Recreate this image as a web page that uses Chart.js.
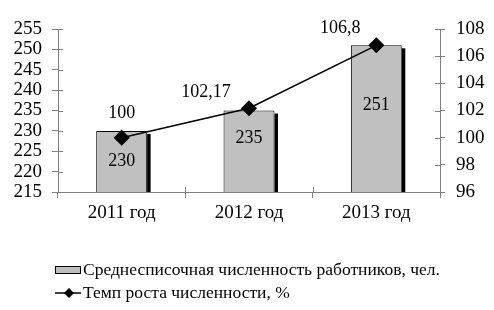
<!DOCTYPE html>
<html>
<head>
<meta charset="utf-8">
<script src="https://cdn.jsdelivr.net/npm/chart.js@4.4.0/dist/chart.umd.min.js"></script>
<style>
  html, body { margin: 0; padding: 0; background: #fff; }
  #wrap { width: 494px; height: 310px; }
</style>
</head>
<body>
<div id="wrap"><canvas id="chart" width="494" height="310"></canvas></div>
<script>
// ==============================
// Data
// ==============================
const years = ["2011 год", "2012 год", "2013 год"];
const staffCount = [230, 235, 251];
const growthRate = [100, 102.17, 106.8];
const growthLabels = ["100", "102,17", "106,8"];
const barLabel = "Среднесписочная численность работников, чел.";
const lineLabel = "Темп роста численности, %";

const FONT = "'Liberation Serif', 'Times New Roman', serif";
const AXIS = "#808080";
const BAR_IDX = 1, LINE_IDX = 0;

// bars start at the axis minimum, not at zero
function barBottom(chart, bar) {
  return Math.min(bar.base, chart.chartArea.bottom);
}

// ==============================
// Bar shadow (black strip on the right side)
// ==============================
const shadowPlugin = {
  id: "barShadow",
  beforeDatasetsDraw(chart) {
    const meta = chart.getDatasetMeta(BAR_IDX);
    const ctx = chart.ctx;
    ctx.save();
    ctx.fillStyle = "#000";
    meta.data.forEach(bar => {
      const right = bar.x + bar.width / 2;
      const bottom = barBottom(chart, bar);
      ctx.fillRect(right, bar.y + 3, 3.5, bottom - bar.y - 3);
    });
    ctx.restore();
  }
};

// ==============================
// Inner half of the tick marks (ticks cross the axis lines)
// ==============================
const crossTicks = {
  id: "crossTicks",
  afterDraw(chart) {
    const ctx = chart.ctx;
    const { y, y1, x } = chart.scales;
    ctx.save();
    ctx.strokeStyle = AXIS;
    ctx.lineWidth = 1;
    ctx.beginPath();
    y.ticks.forEach((t, i) => {
      const py = Math.round(y.getPixelForTick(i)) + 0.5;
      ctx.moveTo(y.right, py); ctx.lineTo(y.right + 5, py);
    });
    y1.ticks.forEach((t, i) => {
      const py = Math.round(y1.getPixelForTick(i)) + 0.5;
      ctx.moveTo(y1.left - 5, py); ctx.lineTo(y1.left, py);
    });
    for (let i = 1; i < years.length; i++) {
      const px = Math.round((x.getPixelForValue(i - 1) + x.getPixelForValue(i)) / 2) + 0.5;
      ctx.moveTo(px, x.top - 5); ctx.lineTo(px, x.top);
    }
    ctx.stroke();
    ctx.restore();
  }
};

// ==============================
// Value labels
// ==============================
const valueLabels = {
  id: "valueLabels",
  afterDatasetsDraw(chart, args, opts) {
    const ctx = chart.ctx;
    ctx.save();
    ctx.font = "18px " + FONT;
    ctx.fillStyle = "#000";
    ctx.textAlign = "center";
    ctx.textBaseline = "middle";
    chart.getDatasetMeta(BAR_IDX).data.forEach((bar, i) => {
      const mid = (bar.y + barBottom(chart, bar)) / 2 + opts.barDy[i];
      ctx.fillText(String(staffCount[i]), bar.x, mid);
    });
    chart.getDatasetMeta(LINE_IDX).data.forEach((pt, i) => {
      ctx.fillText(growthLabels[i], pt.x + opts.lineDx[i], pt.y + opts.lineDy[i]);
    });
    ctx.restore();
  }
};

// ==============================
// Legend (two stacked rows)
// ==============================
const legendRows = {
  id: "legendRows",
  afterDraw(chart) {
    const ctx = chart.ctx;
    ctx.save();
    ctx.font = "17.5px " + FONT;
    ctx.textBaseline = "middle";
    ctx.textAlign = "left";
    // bar marker
    ctx.fillStyle = "#c0c0c0";
    ctx.fillRect(55.5, 266.5, 25, 7);
    ctx.strokeStyle = "#000";
    ctx.lineWidth = 1;
    ctx.strokeRect(55.5, 266.5, 25, 7);
    ctx.fillStyle = "#000";
    ctx.fillText(barLabel, 83, 270);
    // line marker
    ctx.lineWidth = 1.5;
    ctx.beginPath();
    ctx.moveTo(55, 293); ctx.lineTo(81, 293);
    ctx.stroke();
    ctx.beginPath();
    ctx.moveTo(69, 288); ctx.lineTo(74, 293); ctx.lineTo(69, 298); ctx.lineTo(64, 293);
    ctx.closePath();
    ctx.fill();
    ctx.fillText(lineLabel, 83, 293);
    ctx.restore();
  }
};

new Chart(document.getElementById("chart"), {
  data: {
    labels: years,
    datasets: [
      {
        type: "line",
        label: lineLabel,
        data: growthRate,
        yAxisID: "y1",
        borderColor: "#000",
        borderWidth: 1.5,
        backgroundColor: "#000",
        pointStyle: "rectRot",
        pointRadius: 7,
        pointHoverRadius: 7,
        tension: 0,
        order: 0
      },
      {
        type: "bar",
        label: barLabel,
        data: staffCount,
        yAxisID: "y",
        backgroundColor: "#c0c0c0",
        borderColor: "#000",
        borderWidth: 1,
        borderSkipped: false,
        barPercentage: 0.8,
        categoryPercentage: 0.5,
        order: 1
      }
    ]
  },
  options: {
    responsive: false,
    animation: false,
    events: [],
    layout: { padding: { left: 0, right: 0, top: 29, bottom: 78 } },
    plugins: {
      legend: { display: false },
      tooltip: { enabled: false },
      valueLabels: { barDy: [0, -13, -13], lineDx: [0, -43, -36], lineDy: [-24, -16, -17] }
    },
    scales: {
      x: {
        offset: true,
        grid: { display: true, offset: true, drawOnChartArea: false, tickLength: 6, color: AXIS },
        border: { color: AXIS },
        ticks: { color: "#000", font: { family: FONT, size: 19 }, padding: 4, maxRotation: 0 },
        afterFit(s) { s.height = 40; }
      },
      y: {
        position: "left",
        min: 215, max: 255,
        grid: { drawOnChartArea: false, tickLength: 6, color: AXIS },
        border: { color: AXIS },
        ticks: { stepSize: 5, autoSkip: false, color: "#000", font: { family: FONT, size: 19, lineHeight: 1 }, padding: 10 },
        afterFit(s) { s.width = 58; }
      },
      y1: {
        position: "right",
        min: 96, max: 108,
        grid: { drawOnChartArea: false, tickLength: 5, color: AXIS },
        border: { color: AXIS },
        ticks: { stepSize: 2, autoSkip: false, color: "#000", font: { family: FONT, size: 19, lineHeight: 1 }, padding: 11 },
        afterFit(s) { s.width = 54; }
      }
    }
  },
  plugins: [shadowPlugin, crossTicks, valueLabels, legendRows]
});
</script>
</body>
</html>
